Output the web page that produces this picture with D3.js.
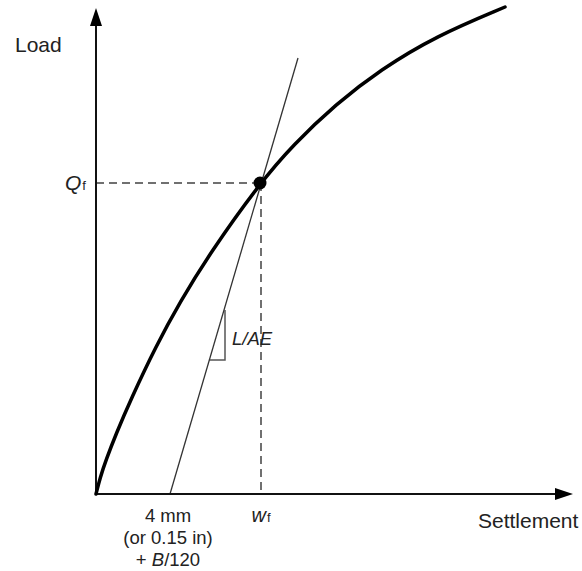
<!DOCTYPE html>
<html lang="en">
<head>
<meta charset="utf-8">
<title>Load settlement curve</title>
<script src="https://d3js.org/d3.v7.min.js"></script>
<style type="text/css">
  body { margin: 0; background: #fff; }
  svg { width: 582px; height: 571px; display: block; }
  .lbl { font-family: "Liberation Sans", Arial, sans-serif; fill: #222; }
</style>
</head>
<body>
<svg></svg>
<script type="text/javascript">

// load-settlement curve (arbitrary units)
const settlement = [0, 4, 10, 20, 35, 60, 84, 114, 164, 197, 240, 284, 340, 409];
const load       = [0, 16, 34, 60, 95, 148, 192, 241, 311, 349, 390, 424, 458, 487];

// failure point
const wf = 165, Qf = 311;
// offset (elastic) line: start on axis, end at top
const offsetS = [74, 202];
const offsetQ = [0, 436];
// slope triangle
const triS = 129, triQ = [134, 184];

const svg = d3.select("svg");

const x = d3.scaleLinear().domain([0, 477]).range([96, 573]);
const y = d3.scaleLinear().domain([0, 486]).range([494, 8]);

// offset line settlement at a given load
const lineS = q => offsetS[0] + (offsetS[1] - offsetS[0]) * (q - offsetQ[0]) / (offsetQ[1] - offsetQ[0]);

// dashed guides
svg.append("line")
  .attr("x1", x(0)).attr("y1", y(Qf))
  .attr("x2", x(wf)).attr("y2", y(Qf))
  .attr("stroke", "#707070").attr("stroke-width", 2)
  .attr("stroke-dasharray", "8,5");
svg.append("line")
  .attr("x1", x(wf)).attr("y1", y(Qf))
  .attr("x2", x(wf)).attr("y2", y(0))
  .attr("stroke", "#707070").attr("stroke-width", 2)
  .attr("stroke-dasharray", "8,5");

// slope triangle
svg.append("path")
  .attr("d", d3.line()([
    [x(triS), y(triQ[1])],
    [x(triS), y(triQ[0])],
    [x(lineS(triQ[0])), y(triQ[0])]
  ]))
  .attr("fill", "none").attr("stroke", "#555").attr("stroke-width", 1.5);

// offset line
svg.append("line")
  .attr("x1", x(offsetS[0])).attr("y1", y(offsetQ[0]))
  .attr("x2", x(offsetS[1])).attr("y2", y(offsetQ[1]))
  .attr("stroke", "#333").attr("stroke-width", 1.3);

// axes
svg.append("line")
  .attr("x1", x(0)).attr("y1", y(0)).attr("x2", x(0)).attr("y2", y(486) + 10)
  .attr("stroke", "#111").attr("stroke-width", 2);
svg.append("line")
  .attr("x1", x(0) - 1).attr("y1", y(0)).attr("x2", x(477) - 10).attr("y2", y(0))
  .attr("stroke", "#111").attr("stroke-width", 2);
svg.append("path")
  .attr("d", `M${x(0)},${y(486)} L${x(0) - 6},${y(486) + 18} L${x(0) + 6},${y(486) + 18} Z`)
  .attr("fill", "#000");
svg.append("path")
  .attr("d", `M${x(477)},${y(0)} L${x(477) - 18},${y(0) - 6} L${x(477) - 18},${y(0) + 6} Z`)
  .attr("fill", "#000");

// load-settlement curve
const pts = settlement.map((s, i) => [s, load[i]]);
svg.append("path")
  .datum(pts)
  .attr("d", d3.line().x(d => x(d[0])).y(d => y(d[1])).curve(d3.curveBasis))
  .attr("fill", "none").attr("stroke", "#000").attr("stroke-width", 3.5)
  .attr("stroke-linecap", "round");

// failure point
svg.append("circle")
  .attr("cx", x(wf) - 1).attr("cy", y(Qf))
  .attr("r", 6.5).attr("fill", "#000");

// labels
svg.append("text").attr("class", "lbl")
  .attr("x", 15).attr("y", 52).attr("font-size", 21)
  .text("Load");

svg.append("text").attr("class", "lbl")
  .attr("x", 478).attr("y", 528).attr("font-size", 21)
  .text("Settlement");

const q = svg.append("text").attr("class", "lbl")
  .attr("x", 65).attr("y", 190).attr("font-size", 21);
q.append("tspan").attr("font-style", "italic").text("Q");
q.append("tspan").attr("font-size", 13).attr("dx", 1).text("f");

const w = svg.append("text").attr("class", "lbl")
  .attr("x", x(wf)).attr("y", 522).attr("font-size", 20)
  .attr("text-anchor", "middle");
w.append("tspan").attr("font-style", "italic").text("w");
w.append("tspan").attr("font-size", 13).attr("dx", 1).text("f");

svg.append("text").attr("class", "lbl")
  .attr("x", 232).attr("y", 345).attr("font-size", 18.5)
  .attr("font-style", "italic")
  .text("L/AE");

const lines = [["4 mm"], ["(or 0.15 in)"], ["+ ", "B", "/120"]];
lines.forEach((parts, i) => {
  const t = svg.append("text").attr("class", "lbl")
    .attr("x", 168).attr("y", 522 + i * 22).attr("font-size", 18.5)
    .attr("text-anchor", "middle");
  parts.forEach(p => {
    t.append("tspan").attr("font-style", p === "B" ? "italic" : "normal").text(p);
  });
});

</script>
</body>
</html>
